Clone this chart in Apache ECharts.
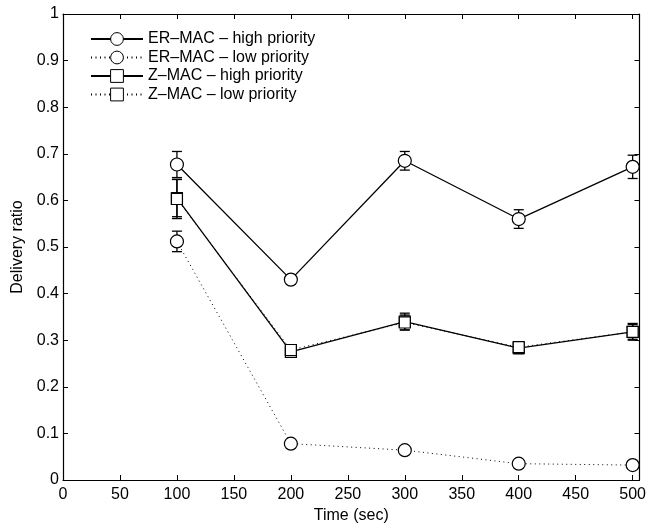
<!DOCTYPE html>
<html><head><meta charset="utf-8">
<script src="https://cdn.jsdelivr.net/npm/echarts@6/dist/echarts.min.js"></script>
<style>html,body{margin:0;padding:0;background:#fff}#c{width:649px;height:529px}</style>
</head><body><div id="c"></div>
<script>
const times = [100, 200, 300, 400, 500];
const erHigh = [0.677, 0.430, 0.685, 0.560, 0.672];
const erHighErr = [0.028, 0.008, 0.020, 0.020, 0.025];
const erLow = [0.512, 0.078, 0.064, 0.035, 0.032];
const erLowErr = [0.022, 0.004, 0.004, 0.003, 0.003];
const zHigh = [0.605, 0.275, 0.340, 0.283, 0.318];
const zHighErr = [0.040, 0.008, 0.018, 0.012, 0.018];
const zLow = [0.603, 0.279, 0.338, 0.285, 0.318];
const zLowErr = [0.042, 0.009, 0.016, 0.010, 0.016];
const xTicks = [0, 50, 100, 150, 200, 250, 300, 350, 400, 450, 500];
const yTicks = [0, 0.1, 0.2, 0.3, 0.4, 0.5, 0.6, 0.7, 0.8, 0.9, 1];
const names = ['ER\u2013MAC \u2013 high priority', 'ER\u2013MAC \u2013 low priority', 'Z\u2013MAC \u2013 high priority', 'Z\u2013MAC \u2013 low priority'];

const FONT = 'Liberation Sans, Arial, sans-serif';
const FS = 16;
const chart = echarts.init(document.getElementById('c'), null, {renderer: 'canvas'});

function errData(vals, errs) {
  return times.map((t, i) => [t, vals[i] - errs[i], vals[i] + errs[i]]);
}
function errSeries(vals, errs, z) {
  return {
    type: 'custom', z: z, silent: true,
    encode: {x: 0, y: [1, 2]},
    data: errData(vals, errs),
    renderItem: function (params, api) {
      const x = api.value(0);
      const lo = api.coord([x, api.value(1)]);
      const hi = api.coord([x, api.value(2)]);
      const w = 5;
      const st = {stroke: '#000', lineWidth: 1.3};
      return {type: 'group', children: [
        {type: 'line', shape: {x1: lo[0], y1: lo[1], x2: hi[0], y2: hi[1]}, style: st},
        {type: 'line', shape: {x1: lo[0] - w, y1: lo[1], x2: lo[0] + w, y2: lo[1]}, style: st},
        {type: 'line', shape: {x1: hi[0] - w, y1: hi[1], x2: hi[0] + w, y2: hi[1]}, style: st}
      ]};
    }
  };
}
function lineSeries(name, vals, symbol, size, dotted, z) {
  return {
    name: name, type: 'line', z: z,
    data: times.map((t, i) => [t, vals[i]]),
    symbol: symbol, symbolSize: size, showAllSymbol: true,
    lineStyle: dotted ? {color: '#000', width: 1, type: [1, 3.5]} : {color: '#000', width: 1.3, type: 'solid'},
    itemStyle: {color: '#fff', borderColor: '#000', borderWidth: 1.2},
    emphasis: {disabled: true},
    animation: false
  };
}

const axisCommon = {
  type: 'value',
  axisLine: {show: true, onZero: false, lineStyle: {color: '#000', width: 1.2}},
  splitLine: {show: false}
};

chart.setOption({
  animation: false,
  backgroundColor: '#fff',
  textStyle: {fontFamily: FONT},
  grid: {left: 63, right: 9, top: 14, bottom: 49, containLabel: false},
  legend: {
    data: names,
    orient: 'vertical',
    left: 85, top: 26,
    itemWidth: 52, itemHeight: 16, itemGap: 2.5,
    itemStyle: {borderWidth: 1},
    textStyle: {fontFamily: FONT, fontSize: FS, color: '#000', lineHeight: 16},
    selectedMode: false
  },
  xAxis: [
    Object.assign({}, axisCommon, {
      min: 0, max: 506, position: 'bottom',
      name: 'Time (sec)', nameLocation: 'middle', nameGap: 28,
      nameTextStyle: {fontFamily: FONT, fontSize: FS, color: '#000'},
      axisTick: {show: true, inside: true, length: 5, customValues: xTicks, lineStyle: {color: '#000'}},
      axisLabel: {show: true, customValues: xTicks, margin: 7, fontFamily: FONT, fontSize: FS, color: '#000'}
    }),
    Object.assign({}, axisCommon, {
      min: 0, max: 506, position: 'top',
      axisTick: {show: true, inside: true, length: 5, customValues: xTicks, lineStyle: {color: '#000'}},
      axisLabel: {show: false}
    })
  ],
  yAxis: [
    Object.assign({}, axisCommon, {
      min: 0, max: 1, position: 'left',
      name: 'Delivery ratio', nameLocation: 'middle', nameGap: 35, nameRotate: 90,
      nameTextStyle: {fontFamily: FONT, fontSize: FS, color: '#000'},
      axisTick: {show: true, inside: true, length: 5, customValues: yTicks, lineStyle: {color: '#000'}},
      axisLabel: {show: true, customValues: yTicks, margin: 4, fontFamily: FONT, fontSize: FS, color: '#000',
        formatter: v => (Math.round(v * 10) / 10).toString()}
    }),
    Object.assign({}, axisCommon, {
      min: 0, max: 1, position: 'right',
      axisTick: {show: true, inside: true, length: 5, customValues: yTicks, lineStyle: {color: '#000'}},
      axisLabel: {show: false}
    })
  ],
  series: [
    errSeries(erHigh, erHighErr, 1),
    errSeries(erLow, erLowErr, 1),
    errSeries(zHigh, zHighErr, 1),
    errSeries(zLow, zLowErr, 1),
    lineSeries(names[0], erHigh, 'circle', 13, false, 2),
    lineSeries(names[1], erLow, 'circle', 13, true, 3),
    lineSeries(names[2], zHigh, 'rect', 11, false, 4),
    lineSeries(names[3], zLow, 'rect', 11, true, 5)
  ]
});
</script>
</body></html>
